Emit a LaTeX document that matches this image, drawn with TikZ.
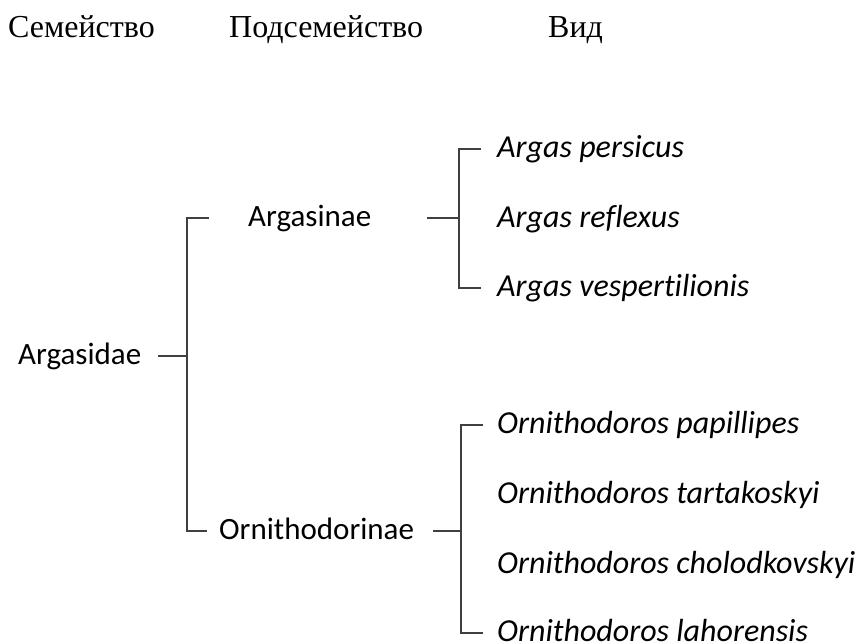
\documentclass[tikz,border=0pt]{standalone}
\usepackage{fontspec}
\setmainfont{Liberation Serif}
\newfontfamily\taxfont[Ligatures=NoCommon]{Carlito}
\usetikzlibrary{positioning}

\begin{document}
\begin{tikzpicture}[
    x=1pt, y=-1pt,
    heading/.style = {
        anchor=base west,
        inner sep=0pt,
        font=\fontsize{32}{38}\selectfont
    },
    taxon/.style = {
        anchor=west,
        inner sep=0pt,
        text height=16pt,
        text depth=0pt,
        font=\taxfont\fontsize{31}{36}\selectfont
    },
    species/.style = {taxon, font=\taxfont\itshape\fontsize{32}{38}\selectfont},
    branch/.style = {draw=black!75, line width=1.6pt},
    line cap=butt, line join=miter
]
\useasboundingbox (0,0) rectangle (859,643);

% Column headings
\node[heading] (hfamily)    at (8,37)   {Семейство};
\node[heading] (hsubfamily) at (229,37) {Подсемейство};
\node[heading] (hspecies)   at (548,37) {Вид};

% Family and subfamilies
\node[taxon] (argasidae)      at (18,356)  {Argasidae};
\node[taxon] (argasinae)      at (248,218) {Argasinae};
\node[taxon] (ornithodorinae) at (219,531) {Ornithodorinae};

% Species of Argasinae
\node[species] (persicus)       at (497,149) {Argas persicus};
\node[species] (reflexus)       at (497,219) {Argas reflexus};
\node[species] (vespertilionis) at (497,288) {Argas vespertilionis};

% Species of Ornithodorinae
\node[species] (papillipes)    at (497,425) {Ornithodoros papillipes};
\node[species] (tartakoskyi)   at (497,495) {Ornithodoros tartakoskyi};
\node[species] (cholodkovskyi) at (497,565) {Ornithodoros cholodkovskyi};
\node[species] (lahorensis)    at (497,633) {Ornithodoros lahorensis};

% Bracket joints
\coordinate (famspine) at (187,356);
\coordinate (argspine) at (459,218);
\coordinate (ornspine) at (461,531);

% Family -> subfamilies
\draw[branch, shorten <=17pt] (argasidae.east) -- (famspine);
\draw[branch, shorten <=39pt, shorten >=12pt]
    (argasinae.west) -| (famspine) |- (ornithodorinae.west);

% Argasinae -> species
\draw[branch, shorten <=56pt] (argasinae.east) -- (argspine);
\draw[branch, shorten <=16pt, shorten >=16pt]
    (persicus.west) -| (argspine) |- (vespertilionis.west);

% Ornithodorinae -> species
\draw[branch, shorten <=19pt] (ornithodorinae.east) -- (ornspine);
\draw[branch, shorten <=14pt, shorten >=14pt]
    (papillipes.west) -| (ornspine) |- (lahorensis.west);

\end{tikzpicture}
\end{document}
